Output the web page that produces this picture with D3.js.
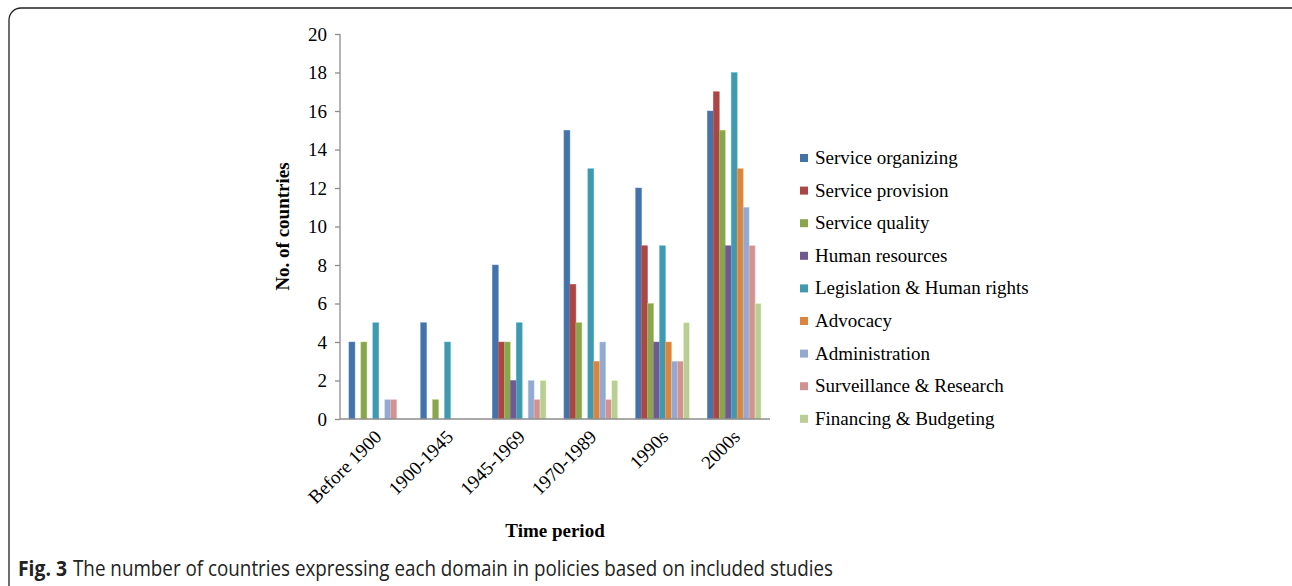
<!DOCTYPE html>
<html>
<head>
<meta charset="utf-8">
<script src="https://cdn.jsdelivr.net/npm/d3@7"></script>
<style>
  body { margin: 0; background: #fff; }
  svg { display: block; }
</style>
</head>
<body>
<svg width="1292" height="586"></svg>
<script>
// chart data
const periods = ['Before 1900', '1900-1945', '1945-1969', '1970-1989', '1990s', '2000s'];
const domains = ['Service organizing', 'Service provision', 'Service quality', 'Human resources',
  'Legislation & Human rights', 'Advocacy', 'Administration', 'Surveillance & Research', 'Financing & Budgeting'];
// one array per domain, values in period order
const serviceOrganizing = [4, 5, 8, 15, 12, 16];
const serviceProvision  = [0, 0, 4, 7, 9, 17];
const serviceQuality    = [4, 1, 4, 5, 6, 15];
const humanResources    = [0, 0, 2, 0, 4, 9];
const legislation       = [5, 4, 5, 13, 9, 18];
const advocacy          = [0, 0, 0, 3, 4, 13];
const administration    = [1, 0, 2, 4, 3, 11];
const surveillance      = [1, 0, 1, 1, 3, 9];
const financing         = [0, 0, 2, 2, 5, 6];
const yTicks = [0, 2, 4, 6, 8, 10, 12, 14, 16, 18, 20];

const seriesValues = [serviceOrganizing, serviceProvision, serviceQuality, humanResources,
  legislation, advocacy, administration, surveillance, financing];
const colors = ['#4572A7', '#AA4643', '#89A54E', '#71588F', '#4198AF', '#DB843D', '#93A9CF', '#D19392', '#B9CD96'];

(function () {
  const svg = d3.select('svg');
  const serif = '"Liberation Serif", "Times New Roman", serif';
  const fs = 19;

  // outer rounded frame
  svg.append('rect')
    .attr('x', 9).attr('y', 8)
    .attr('width', 1300).attr('height', 590)
    .attr('rx', 12)
    .attr('fill', 'none')
    .attr('stroke', '#222')
    .attr('stroke-width', 1.3);

  const x0 = d3.scaleBand().domain(periods).range([340, 770]).paddingInner(0.25).paddingOuter(0.125);
  const x1 = d3.scaleBand().domain(d3.range(domains.length)).range([0, x0.bandwidth()]);
  const y = d3.scaleLinear().domain([0, 20]).range([419, 34]);
  const color = d3.scaleOrdinal().domain(d3.range(domains.length)).range(colors);

  // bars
  const groups = svg.append('g').selectAll('g')
    .data(periods)
    .join('g')
    .attr('transform', d => `translate(${x0(d)},0)`);

  groups.selectAll('rect')
    .data((p, pi) => seriesValues.map((vals, si) => ({si, v: vals[pi]})).filter(d => d.v > 0))
    .join('rect')
    .attr('x', d => x1(d.si))
    .attr('y', d => y(d.v))
    .attr('width', x1.bandwidth())
    .attr('height', d => y(0) - y(d.v))
    .attr('fill', d => color(d.si))
    .attr('stroke', d => d3.color(color(d.si)).brighter(0.6))
    .attr('stroke-width', 0.5);

  // y axis
  const yAxis = svg.append('g')
    .attr('transform', 'translate(340,0)')
    .call(d3.axisLeft(y).tickValues(yTicks).tickSize(5).tickPadding(8));
  yAxis.attr('font-family', serif).attr('font-size', fs);
  yAxis.selectAll('line, path').attr('stroke', '#8c8c8c').attr('stroke-width', 1.3);
  yAxis.select('.domain').attr('d', `M0,${y(20)}V${y(0)}`);
  yAxis.selectAll('text').attr('fill', '#000');

  // x axis
  const xAxis = svg.append('g')
    .attr('transform', `translate(0,${y(0)})`)
    .call(d3.axisBottom(x0).tickSize(0).tickPadding(0));
  xAxis.attr('font-family', serif).attr('font-size', fs);
  xAxis.select('.domain').attr('stroke', '#8c8c8c').attr('stroke-width', 1.3).attr('d', 'M340,0H770');
  xAxis.selectAll('text')
    .attr('fill', '#000')
    .attr('text-anchor', 'end')
    .attr('dy', 0)
    .attr('transform', 'translate(7,19) rotate(-45)');

  // axis titles
  svg.append('text')
    .attr('transform', `translate(289,${(y(0) + y(20)) / 2}) rotate(-90)`)
    .attr('text-anchor', 'middle')
    .attr('font-family', serif).attr('font-size', fs).attr('font-weight', 'bold')
    .text('No. of countries');

  svg.append('text')
    .attr('x', 555).attr('y', 537)
    .attr('text-anchor', 'middle')
    .attr('font-family', serif).attr('font-size', fs).attr('font-weight', 'bold')
    .text('Time period');

  // legend
  const legend = svg.append('g').selectAll('g')
    .data(domains)
    .join('g')
    .attr('transform', (d, i) => `translate(800,${158 + i * 32.6})`);
  legend.append('rect')
    .attr('x', 0).attr('y', -4)
    .attr('width', 8).attr('height', 8)
    .attr('fill', (d, i) => color(i));
  legend.append('text')
    .attr('x', 15).attr('y', 6)
    .attr('font-family', serif).attr('font-size', fs)
    .text(d => d);

  // caption (label + text kept as separate elements)
  const capFont = '"Open Sans", sans-serif';
  svg.append('text')
    .attr('x', 18).attr('y', 576)
    .attr('font-family', capFont).attr('font-size', 21).attr('font-weight', 'bold')
    .attr('fill', '#222')
    .attr('textLength', 49).attr('lengthAdjust', 'spacingAndGlyphs')
    .text('Fig. 3');
  svg.append('text')
    .attr('x', 73).attr('y', 576)
    .attr('font-family', capFont).attr('font-size', 21)
    .attr('fill', '#222')
    .attr('textLength', 760).attr('lengthAdjust', 'spacingAndGlyphs')
    .text('The number of countries expressing each domain in policies based on included studies');
})();
</script>
</body>
</html>
